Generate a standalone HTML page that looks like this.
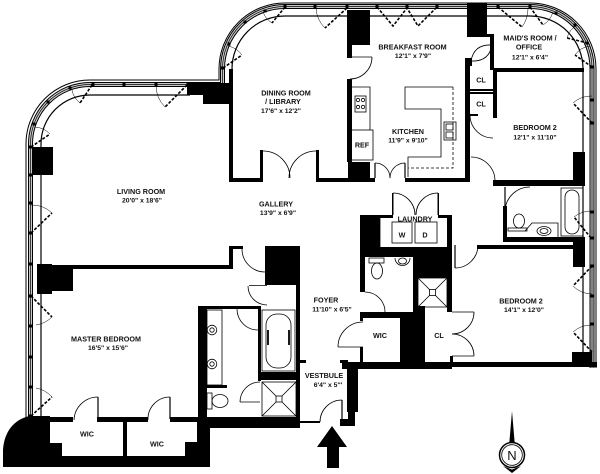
<!DOCTYPE html>
<html><head><meta charset="utf-8">
<style>
html,body{margin:0;padding:0;background:#fff;width:600px;height:474px;overflow:hidden}
svg{display:block}
text{font-family:"Liberation Sans",Arial,sans-serif;font-weight:bold;font-size:7.2px;fill:#111;text-anchor:middle}
.d{font-size:6.8px}
</style></head><body>
<svg width="600" height="474" viewBox="0 0 600 474" xmlns="http://www.w3.org/2000/svg">
<rect width="600" height="474" fill="#fff"/>

<!-- exterior glazing -->
<g fill="none">
<path d="M26,418V144A64,64 0 0 1 90,80H219V69A66,66 0 0 1 285,3H530A66,66 0 0 1 596,69V368" stroke="#000" stroke-width="1"/>
<path d="M30.5,418V144A59.5,59.5 0 0 1 90,84.5H222.5V69A62.5,62.5 0 0 1 285,6.5H530A62,62 0 0 1 592,69V368" stroke="#000" stroke-width="5"/>
<path d="M30.5,418V144A59.5,59.5 0 0 1 90,84.5H222.5V69A62.5,62.5 0 0 1 285,6.5H530A62,62 0 0 1 592,69V368" stroke="#c9c9c9" stroke-width="3"/>
<path d="M30.5,418V144A59.5,59.5 0 0 1 90,84.5H222.5V69A62.5,62.5 0 0 1 285,6.5H530A62,62 0 0 1 592,69V368" stroke="#000" stroke-width="0.7"/>
<path d="M41,417V144A49,49 0 0 1 90,95H190" stroke="#000" stroke-width="1.2"/>
<path d="M232,85V69A53,53 0 0 1 285,16H530A53,53 0 0 1 583,69V363" stroke="#000" stroke-width="1.2"/>
</g>

<!-- mullions -->
<g fill="#000">
<rect x="29" y="145.5" width="3" height="3"/><rect x="29" y="173.5" width="3" height="3"/><rect x="29" y="201.5" width="3" height="3"/><rect x="29" y="231.5" width="3" height="3"/><rect x="29" y="262.5" width="3" height="3"/><rect x="29" y="294.5" width="3" height="3"/><rect x="29" y="324.5" width="3" height="3"/><rect x="29" y="355.5" width="3" height="3"/><rect x="29" y="385.5" width="3" height="3"/><rect x="29" y="414.5" width="3" height="3"/>
<rect x="32.5" y="122.5" width="3" height="3"/><rect x="46.5" y="100.5" width="3" height="3"/><rect x="68.5" y="86.5" width="3" height="3"/>
<rect x="91.5" y="83" width="3" height="3"/><rect x="122.5" y="83" width="3" height="3"/><rect x="154.5" y="83" width="3" height="3"/><rect x="186.5" y="83" width="3" height="3"/>
<rect x="221" y="66.5" width="3" height="3"/><rect x="227.5" y="42.5" width="3" height="3"/><rect x="243.5" y="20.5" width="3" height="3"/><rect x="263.5" y="9.5" width="3" height="3"/><rect x="283.5" y="5" width="3" height="3"/>
<rect x="313.5" y="5" width="3" height="3"/><rect x="345.5" y="5" width="3" height="3"/><rect x="375.5" y="5" width="3" height="3"/><rect x="405.5" y="5" width="3" height="3"/><rect x="435.5" y="5" width="3" height="3"/><rect x="496.5" y="5" width="3" height="3"/><rect x="528.5" y="5" width="3" height="3"/>
<rect x="554.5" y="11.5" width="3" height="3"/><rect x="573.5" y="23.5" width="3" height="3"/><rect x="585.5" y="41.5" width="3" height="3"/><rect x="590.5" y="65.5" width="3" height="3"/>
<rect x="590.5" y="98.5" width="3" height="3"/><rect x="590.5" y="121.5" width="3" height="3"/><rect x="590.5" y="210.5" width="3" height="3"/><rect x="590.5" y="236.5" width="3" height="3"/><rect x="590.5" y="264.5" width="3" height="3"/><rect x="590.5" y="294.5" width="3" height="3"/><rect x="590.5" y="322.5" width="3" height="3"/>
</g>

<!-- casement door swings -->
<g fill="none" stroke="#000" stroke-width="1.6" stroke-dasharray="3 1.6">
<path d="M31,147L50,134"/><path d="M31,233L52,213"/><path d="M92,85L80,103"/><path d="M187,85L165,107"/>
<path d="M223,68L242,55"/><path d="M285,7L272,23"/><path d="M347,8L325,28"/>
<path d="M377,7L393,26L407,8L418,26L437,7"/>
<path d="M498,7L522,27"/><path d="M530,7L543,25"/><path d="M588,43L567,38"/><path d="M592,67L575,55"/>
<path d="M592,123L573,103"/><path d="M591,238L574,217"/><path d="M592,266L573,286"/><path d="M592,352L573,332"/>
<path d="M31,296L52,317"/><path d="M31,416L52,397"/>
</g>
<g fill="none" stroke="#000" stroke-width="0.5">
<path d="M50,134A23,23 0 0 0 35,127"/><path d="M52,213A29,29 0 0 0 31,205"/><path d="M80,103A21.6,21.6 0 0 1 72,90"/><path d="M165,107A31,31 0 0 1 156,85"/>
<path d="M242,55A23,23 0 0 0 228,46"/><path d="M272,23A22,22 0 0 1 263,12"/><path d="M325,28A30,30 0 0 1 316,8"/>
<path d="M522,27A32,32 0 0 0 528,9"/><path d="M543,25A23,23 0 0 0 553,12"/><path d="M567,38A21.6,21.6 0 0 1 577,25"/><path d="M575,55A21.6,21.6 0 0 1 590,46"/>
<path d="M573,103A27.6,27.6 0 0 1 592,96"/><path d="M574,217A27,27 0 0 1 591,211"/><path d="M573,286A27.6,27.6 0 0 0 592,294"/><path d="M573,332A27.6,27.6 0 0 1 592,325"/>
<path d="M52,317A29.7,29.7 0 0 1 36,325"/><path d="M52,397A29,29 0 0 0 36,388"/>
</g>

<!-- walls -->
<g fill="#000">
<!-- living / dining -->
<rect x="187" y="83" width="45" height="12"/><rect x="203" y="95" width="29" height="9"/>
<rect x="229" y="69" width="4" height="113"/><rect x="229" y="178" width="33" height="4"/>
<rect x="260" y="150" width="3" height="32"/><rect x="316" y="150" width="3" height="32"/><rect x="316" y="178" width="32" height="4"/>
<!-- living pillar -->
<rect x="32" y="147" width="21" height="28"/>
<!-- kitchen -->
<rect x="348" y="162" width="22" height="20"/><rect x="370" y="178" width="5" height="4"/><rect x="405" y="178" width="64" height="4"/>
<rect x="347" y="10" width="23" height="35"/><rect x="347" y="45" width="5" height="13"/><rect x="347" y="55" width="4" height="3"/>
<rect x="347" y="79" width="5" height="83"/>
<rect x="465" y="60" width="5" height="122"/>
<!-- maid -->
<rect x="467" y="3" width="20" height="32"/><rect x="467" y="34" width="27" height="3"/><rect x="490" y="34" width="4" height="36"/>
<rect x="465" y="58" width="7" height="8"/>
<rect x="493" y="68" width="91" height="4"/>
<rect x="493" y="70" width="4" height="48"/>
<rect x="470" y="89" width="23" height="2"/><rect x="470" y="92" width="23" height="2"/><rect x="470" y="114" width="8" height="2"/>
<!-- bedroom 2 upper -->
<rect x="573" y="152" width="12" height="30"/><rect x="493" y="180" width="92" height="6"/>
<!-- upper bath -->
<rect x="503" y="206" width="4" height="36"/><rect x="503" y="237" width="82" height="5"/>
<rect x="573" y="237" width="12" height="30"/><rect x="477" y="245" width="96" height="4"/>
<!-- laundry -->
<rect x="360" y="215" width="20" height="42"/><rect x="360" y="215" width="33" height="3"/><rect x="438" y="215" width="14" height="3"/>
<rect x="392" y="193" width="1.5" height="22"/><rect x="437.5" y="193" width="1.5" height="22"/>
<rect x="447" y="215" width="5" height="97"/><rect x="360" y="247" width="92" height="10"/>
<rect x="413" y="247" width="39" height="31"/><rect x="360" y="257" width="5" height="35"/>
<rect x="413" y="278" width="5" height="38"/><rect x="413" y="306" width="12" height="10"/>
<!-- WIC / CL -->
<rect x="360" y="312" width="55" height="6"/><rect x="360" y="312" width="3" height="9"/><rect x="360" y="347" width="3" height="15"/>
<rect x="400" y="316" width="25" height="50"/>
<rect x="342" y="362" width="110" height="7"/>
<rect x="450" y="356" width="3" height="8"/>
<!-- bedroom 2 lower -->
<rect x="450" y="362" width="147" height="5"/><rect x="572" y="352" width="20" height="15"/>
<!-- vestibule -->
<rect x="347" y="362" width="11" height="50"/><rect x="348" y="410" width="7" height="16"/><rect x="340" y="419" width="15" height="7"/>
<rect x="298" y="360" width="8" height="3"/><rect x="340" y="360" width="8" height="3"/>
<rect x="300" y="421" width="20" height="2"/>
<!-- master hall / bath -->
<rect x="265" y="246" width="35" height="39"/><rect x="296" y="246" width="4" height="182"/>
<rect x="229" y="246" width="14" height="3"/><rect x="229" y="246" width="4" height="23"/>
<rect x="52" y="265" width="181" height="4"/>
<rect x="37" y="264" width="15" height="30"/><rect x="52" y="268" width="21" height="23"/>
<rect x="198" y="306" width="60" height="3"/><rect x="198" y="306" width="9" height="150"/>
<rect x="197" y="417" width="103" height="11"/><rect x="197" y="417" width="13" height="50"/>
<rect x="258" y="306" width="3" height="75"/><rect x="258" y="372" width="39" height="8"/>
<rect x="207" y="385" width="20" height="3"/>
<!-- WICs -->
<rect x="50" y="417" width="23" height="5"/><rect x="97" y="417" width="51" height="5"/><rect x="170" y="417" width="28" height="5"/>
<rect x="123" y="420" width="4" height="37"/>
<rect x="3" y="456" width="207" height="11"/>
<rect x="50" y="443" width="12" height="14"/><rect x="185" y="442" width="13" height="15"/>
<path d="M50,416L30,416C14,419 4,432 3,450L3,467L50,467Z"/>
</g>

<!-- interior doors -->
<g fill="none" stroke="#000" stroke-width="0.8">
<path d="M263,151A27,27 0 0 1 290,178"/><path d="M316,151A27,27 0 0 0 289,178"/>
<path d="M375,163V178M405,163V178" stroke-width="1.2"/>
<path d="M375,163A15,15 0 0 1 390,178"/><path d="M405,163A15,15 0 0 0 390,178"/>
<path d="M393,193A22,22 0 0 1 415,215"/><path d="M438,193A22,22 0 0 0 416,215"/>
<path d="M350,57H372"/><path d="M372,57A22,22 0 0 1 350,79"/>
<path d="M471,61Q474,44 492,45"/><path d="M471,61Q489,62 492,45"/>
<path d="M470,115A23,23 0 0 0 493,138"/>
<path d="M471,157A24,24 0 0 1 495,181"/>
<path d="M530,187A25,25 0 0 0 505,210"/><path d="M505,187V210" stroke-width="1.2"/>
<path d="M455,245V268" stroke-width="1.2"/><path d="M455,268A23,23 0 0 0 478,245"/>
<path d="M365,292A20,20 0 0 1 385,312"/>
<path d="M338,347H363"/><path d="M338,347A25,25 0 0 1 363,322"/>
<path d="M452,312H474M452,356H474"/><path d="M474,312A22,22 0 0 1 452,334"/><path d="M474,356A22,22 0 0 0 452,334"/>
<path d="M342,400V422" stroke-width="1.2"/><path d="M342,400A22,22 0 0 0 320,422"/>
<path d="M242,249A23,23 0 0 0 265,272"/>
<path d="M249,285.5H267"/><path d="M248,286A19,19 0 0 0 267,305"/>
<path d="M237,309A21,21 0 0 0 258,330"/>
<path d="M240,402H260"/><path d="M260,382A20,20 0 0 0 240,402"/>
<path d="M98,397V419" stroke-width="1.2"/><path d="M98,397A24,24 0 0 0 74,420"/>
<path d="M170,397V419" stroke-width="1.2"/><path d="M170,397A22,22 0 0 0 148,420"/>
</g>

<!-- fixtures -->
<g fill="none" stroke="#000" stroke-width="0.8">
<!-- kitchen -->
<path d="M352,87H370V130"/>
<rect x="355" y="96" width="11" height="16"/>
<circle cx="358" cy="100" r="1.7"/><circle cx="363" cy="100" r="1.7"/><circle cx="358" cy="107" r="1.7"/><circle cx="363" cy="107" r="1.7"/>
<rect x="351" y="130" width="22" height="30"/>
<path d="M453,87H405V109H441V157H408V177"/>
<path d="M453,87V168H408" stroke-dasharray="3 2"/>
<rect x="444" y="122" width="12" height="18"/><rect x="446" y="124" width="7" height="6"/><rect x="446" y="132" width="7" height="6"/>
<!-- laundry -->
<rect x="392" y="222" width="20" height="21"/><rect x="415" y="222" width="22" height="21"/>
<path d="M380,247V215" />
<!-- small bath -->
<rect x="369" y="258" width="15" height="5"/><ellipse cx="377" cy="271" rx="5.5" ry="8"/>
<path d="M395,258A7.5,7.5 0 0 0 410,258"/><ellipse cx="402.5" cy="261" rx="4" ry="3"/>
<rect x="418" y="278" width="29" height="29"/><path d="M418,278L447,307M447,278L418,307"/><rect x="429.5" y="289.5" width="6" height="6" fill="#fff"/>
<!-- upper bath -->
<rect x="561" y="188" width="22" height="48"/><rect x="565" y="190" width="14" height="44" rx="7"/>
<ellipse cx="519" cy="221" rx="5.5" ry="7"/><rect x="508" y="228" width="19" height="3"/>
<path d="M525,231L532,223H558V237"/><ellipse cx="544" cy="231" rx="7" ry="4.5"/><ellipse cx="544" cy="231" rx="4" ry="2.5"/>
<!-- master bath -->
<rect x="262" y="310" width="33" height="61"/><rect x="266" y="314" width="25" height="54" rx="11"/>
<path d="M268,330V345M289,330V345" stroke-width="1.8"/>
<rect x="262" y="382" width="34" height="34"/><path d="M262,382L296,416M296,382L262,416"/><rect x="276" y="396" width="6" height="6" fill="#fff"/>
<rect x="207" y="310" width="15" height="75"/>
<circle cx="212" cy="330" r="4.8"/><circle cx="212" cy="330" r="2.2"/>
<circle cx="212" cy="364" r="4.8"/><circle cx="212" cy="364" r="2.2"/>
<rect x="207" y="393" width="5" height="16"/><ellipse cx="220" cy="401" rx="8" ry="6.5"/>
</g>

<!-- labels -->
<text x="286" y="95.5">DINING ROOM</text>
<text x="283" y="104">/ LIBRARY</text>
<text x="281" y="113" class="d">17'6" x 12'2"</text>
<text x="412.5" y="49.5">BREAKFAST ROOM</text>
<text x="413" y="58" class="d">12'1" x 7'9"</text>
<text x="530" y="40.5">MAID'S ROOM /</text>
<text x="529" y="49.5">OFFICE</text>
<text x="530" y="59.5" class="d">12'1" x 6'4"</text>
<text x="408" y="134">KITCHEN</text>
<text x="408" y="142.5" class="d">11'9" x 9'10"</text>
<text x="362" y="147.5">REF</text>
<text x="481" y="82.5">CL</text>
<text x="481" y="106.5">CL</text>
<text x="535" y="130">BEDROOM 2</text>
<text x="535" y="139.5" class="d">12'1" x 11'10"</text>
<text x="141" y="194">LIVING ROOM</text>
<text x="142" y="202.5" class="d">20'0" x 18'6"</text>
<text x="276" y="206.5">GALLERY</text>
<text x="278" y="215" class="d">13'9" x 6'9"</text>
<text x="415" y="221.5">LAUNDRY</text>
<text x="402" y="237.5">W</text>
<text x="425" y="237.5">D</text>
<text x="326" y="302.5">FOYER</text>
<text x="332" y="311.5" class="d">11'10" x 6'5"</text>
<text x="521" y="303.5">BEDROOM 2</text>
<text x="524" y="312" class="d">14'1" x 12'0"</text>
<text x="380" y="338">WIC</text>
<text x="439" y="338">CL</text>
<text x="324" y="378">VESTBULE</text>
<text x="328" y="387" class="d">6'4" x 5'''</text>
<text x="106" y="341.5">MASTER BEDROOM</text>
<text x="108" y="350" class="d">16'5" x 15'6"</text>
<text x="87" y="436.5">WIC</text>
<text x="157" y="446.5">WIC</text>

<!-- entry arrow -->
<polygon points="332,426 347,447 339,447 339,468 327,468 327,447 317,447" fill="#000"/>

<!-- north -->
<polygon points="512,411 509.3,443 514.7,443" fill="#000"/>
<circle cx="512" cy="455" r="12.5" fill="#fff" stroke="#000" stroke-width="1.5"/>
<circle cx="512" cy="455" r="10.3" fill="none" stroke="#000" stroke-width="0.8"/>
<text x="512" y="460" style="font-size:13px;font-weight:normal">N</text>
<polygon points="503,466 512,473 521,466 512,469.5" fill="#000"/>
</svg>
</body></html>
